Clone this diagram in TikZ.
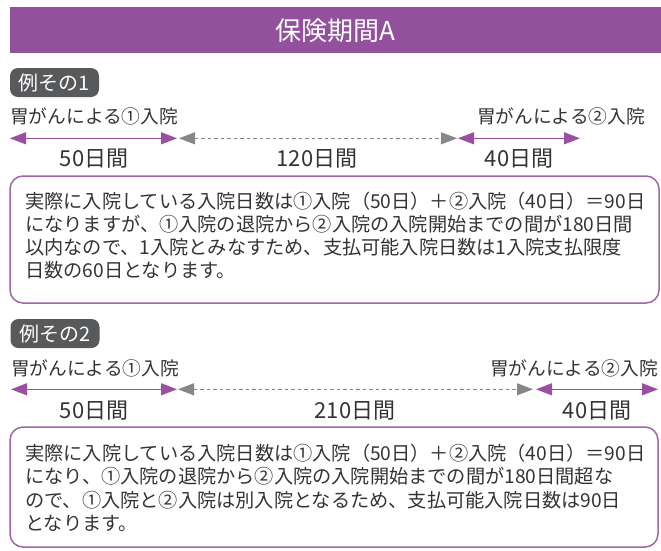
\documentclass[tikz,border=0pt]{standalone}
\usepackage{fontspec}
\setmainfont{Noto Sans CJK JP}
\usetikzlibrary{arrows.meta}
\definecolor{hdr}{HTML}{93519D}
\definecolor{pur}{HTML}{9B4FA0}
\definecolor{boxpur}{HTML}{A064AA}
\definecolor{tagc}{HTML}{58595B}
\definecolor{txt}{HTML}{333333}
\definecolor{gry}{HTML}{85878A}
\tikzset{
  lbl/.style={font=\fontsize{18.7}{22}\selectfont, text=txt, inner sep=0pt},
  dur/.style={font=\fontsize{22}{26}\selectfont, text=txt, inner sep=0pt, anchor=base},
  body/.style={font=\fontsize{19.2}{23}\selectfont, text=txt, inner sep=0pt, anchor=base west},
  tagbox/.style={fill=tagc, rounded corners=8pt, text=white, font=\fontsize{20}{22}\selectfont,
    minimum width=89pt, minimum height=29pt, inner sep=0pt},
  framebox/.style={draw=boxpur, line width=1.5pt, rounded corners=13pt, inner sep=0pt},
  parrow/.style={draw=pur, line width=1.3pt, {Triangle[length=16pt,width=12pt]}-{Triangle[length=16pt,width=12pt]}},
  garrow/.style={draw=gry, line width=1.1pt, dash pattern=on 3.5pt off 3pt, {Triangle[length=16pt,width=12pt]}-{Triangle[length=16pt,width=12pt]}},
}
\begin{document}
\begin{tikzpicture}[x=1pt,y=-1pt]
\useasboundingbox (0,0) rectangle (661,550);
% header
\node[fill=hdr, minimum width=651pt, minimum height=46pt, inner sep=0pt, text=white,
  font=\fontsize{26}{30}\selectfont] (hdr) at (335.5,30.4) {保険期間A};

% ---------- example 1 ----------
\node[tagbox] (tag1) at (54.5,82.5) {例その1};
\node[lbl, anchor=base west] (l1a) at (10,123.5) {胃がんによる①入院};
\node[lbl, anchor=base east] (l1b) at (645,123.5) {胃がんによる②入院};
\coordinate (p1a) at (10,138.3);
\coordinate (p1b) at (177,138.3);
\coordinate (g1a) at (179,138.3);
\coordinate (g1b) at (457,138.3);
\coordinate (q1a) at (458,138.3);
\coordinate (q1b) at (580,138.3);
\draw[parrow] (p1a) -- (p1b);
\draw[garrow] (g1a) -- (g1b);
\draw[parrow] (q1a) -- (q1b);
\node[dur] (d1a) at (94,166.5) {50日間};
\node[dur] (d1b) at (317,166.5) {120日間};
\node[dur] (d1c) at (519,166.5) {40日間};
\node[framebox, minimum width=649pt, minimum height=127pt] (box1) at (334.5,239.5) {};
\node[body] (t1a) at (25,208.5) {実際に入院している入院日数は①入院（50日）＋②入院（40日）＝90日};
\node[body] (t1b) at (25,231.5) {になりますが、①入院の退院から②入院の入院開始までの間が180日間};
\node[body] (t1c) at (25,254.5) {以内なので、1入院とみなすため、支払可能入院日数は1入院支払限度};
\node[body] (t1d) at (25,277.5) {日数の60日となります。};

% ---------- example 2 ----------
\node[tagbox] (tag2) at (55,333.5) {例その2};
\node[lbl, anchor=base west] (l2a) at (11,375.5) {胃がんによる①入院};
\node[lbl, anchor=base east] (l2b) at (658,375.5) {胃がんによる②入院};
\coordinate (p2a) at (11,389.3);
\coordinate (p2b) at (177,389.3);
\coordinate (g2a) at (178,389.3);
\coordinate (g2b) at (533,389.3);
\coordinate (q2a) at (536,389.3);
\coordinate (q2b) at (658,389.3);
\draw[parrow] (p2a) -- (p2b);
\draw[garrow] (g2a) -- (g2b);
\draw[parrow] (q2a) -- (q2b);
\node[dur] (d2a) at (94,418.5) {50日間};
\node[dur] (d2b) at (355,418.5) {210日間};
\node[dur] (d2c) at (597,418.5) {40日間};
\node[framebox, minimum width=648pt, minimum height=120pt] (box2) at (334,487) {};
\node[body] (t2a) at (25,460.5) {実際に入院している入院日数は①入院（50日）＋②入院（40日）＝90日};
\node[body] (t2b) at (25,483.8) {になり、①入院の退院から②入院の入院開始までの間が180日間超な};
\node[body] (t2c) at (25,507.1) {ので、①入院と②入院は別入院となるため、支払可能入院日数は90日};
\node[body] (t2d) at (25,530.4) {となります。};
\end{tikzpicture}
\end{document}
